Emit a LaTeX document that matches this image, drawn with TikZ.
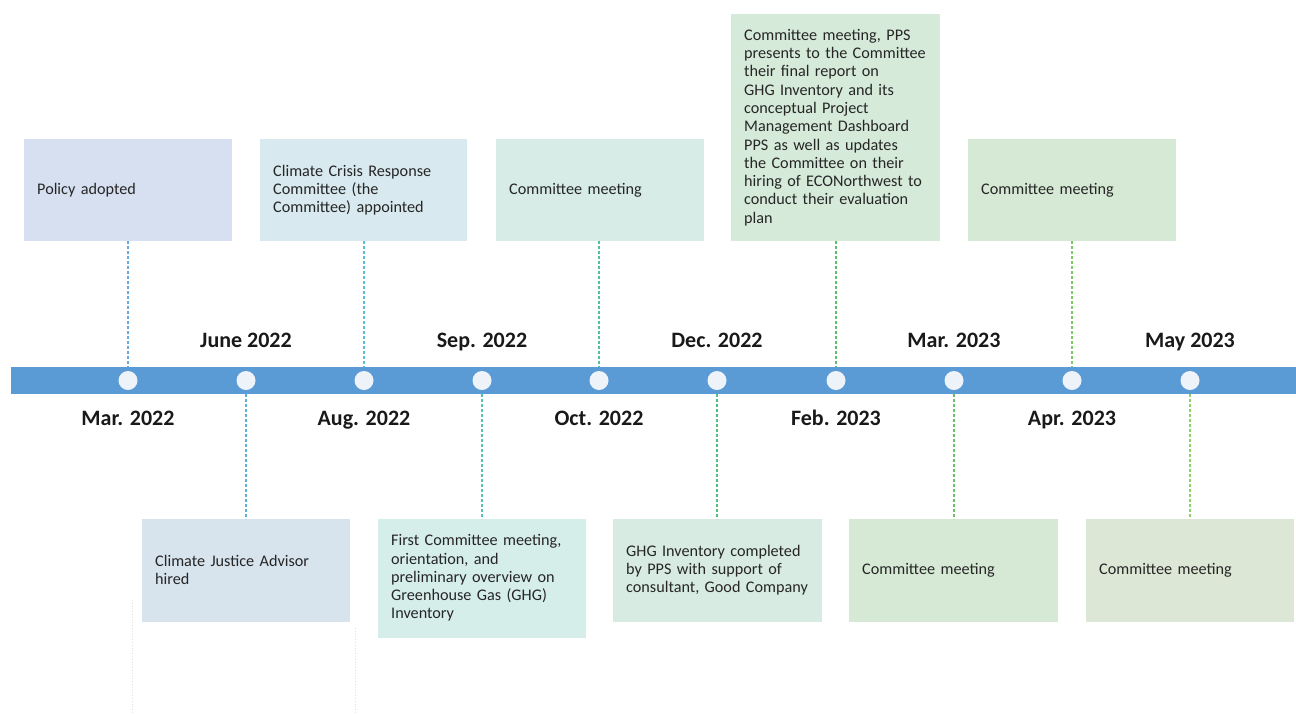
\documentclass[tikz,border=0pt]{standalone}
\usepackage{fontspec}
\setmainfont{Carlito}
\definecolor{barblue}{HTML}{5B9BD5}
\definecolor{dotfill}{HTML}{EEF2F9}
\definecolor{boxA}{HTML}{D6E0F0}
\definecolor{boxB}{HTML}{D8E9EF}
\definecolor{boxC}{HTML}{D7ECE6}
\definecolor{boxD}{HTML}{D6EAD9}
\definecolor{boxE}{HTML}{D6E9D4}
\definecolor{boxF}{HTML}{D7E3ED}
\definecolor{boxG}{HTML}{D6EEEA}
\definecolor{boxH}{HTML}{D7EBE2}
\definecolor{boxI}{HTML}{D6E9D5}
\definecolor{boxJ}{HTML}{DCE7D5}
\definecolor{lineA}{HTML}{6AA8E0}
\definecolor{lineB}{HTML}{5CB3DA}
\definecolor{lineC}{HTML}{55C2D6}
\definecolor{lineD}{HTML}{52C4B8}
\definecolor{lineE}{HTML}{4FC49C}
\definecolor{lineF}{HTML}{4FBF7E}
\definecolor{lineG}{HTML}{5BBF6C}
\definecolor{lineH}{HTML}{6AC466}
\definecolor{lineI}{HTML}{7ACB66}
\definecolor{lineJ}{HTML}{8CD06A}
\tikzset{
  evbox/.style={anchor=west, inner xsep=13pt, inner ysep=4pt, align=left,
    text width=#1, font=\fontsize{16.2}{18.3}\selectfont, text=black!85},
  datelbl/.style={anchor=base, font=\bfseries\fontsize{22}{24}\selectfont, text=black!90},
  tick/.style={circle, fill=dotfill, minimum size=19pt, inner sep=0pt},
  conn/.style={line width=1.1pt, dash pattern=on 3pt off 2pt, xshift=0.5pt},
  faint/.style={line width=0.8pt, dotted, draw=black!12}
}
\begin{document}
\begin{tikzpicture}[x=1pt,y=-1pt]
\useasboundingbox (0,0) rectangle (1296,713);
% bar
\fill[barblue] (11,367) rectangle (1296,394);
% ticks
\foreach \n/\x in {t1/128,t2/246,t3/364,t4/482,t5/599,t6/717,t7/836,t8/954,t9/1072,t10/1190}
  \node[tick] (\n) at (\x,380.5) {};
% date labels
\node[datelbl] (lmar22) at (128,425) {Mar. 2022};
\node[datelbl] (ljun22) at (246,347) {June 2022};
\node[datelbl] (laug22) at (364,425) {Aug. 2022};
\node[datelbl] (lsep22) at (482,347) {Sep. 2022};
\node[datelbl] (loct22) at (599,425) {Oct. 2022};
\node[datelbl] (ldec22) at (717,347) {Dec. 2022};
\node[datelbl] (lfeb23) at (836,425) {Feb. 2023};
\node[datelbl] (lmar23) at (954,347) {Mar. 2023};
\node[datelbl] (lapr23) at (1072,425) {Apr. 2023};
\node[datelbl] (lmay23) at (1190,347) {May 2023};
% top boxes
\fill[boxA] (24,139) rectangle (232,241);
\fill[boxB] (260,139) rectangle (467,241);
\fill[boxC] (496,139) rectangle (704,241);
\fill[boxD] (731,14) rectangle (940,241);
\fill[boxE] (968,139) rectangle (1176,241);
% bottom boxes
\fill[boxF] (142,519) rectangle (350,622);
\fill[boxG] (378,519) rectangle (586,638);
\fill[boxH] (613,519) rectangle (822,622);
\fill[boxI] (849,519) rectangle (1058,622);
\fill[boxJ] (1086,519) rectangle (1294,622);
% texts (vertically centred in boxes)
\node[evbox=195pt] (e1) at (24,190) {Policy adopted};
\node[evbox=195pt] (e3) at (260,190) {Climate Crisis Response\\Committee (the\\Committee) appointed};
\node[evbox=195pt] (e5) at (496,190) {Committee meeting};
\node[evbox=195pt] (e7) at (731,127.5) {Committee meeting, PPS\\presents to the Committee\\their final report on\\GHG Inventory and its\\conceptual Project\\Management Dashboard\\PPS as well as updates\\the Committee on their\\hiring of ECONorthwest to\\conduct their evaluation\\plan};
\node[evbox=195pt] (e9) at (968,190) {Committee meeting};
\node[evbox=195pt] (e2) at (142,570) {Climate Justice Advisor\\hired};
\node[evbox=195pt] (e4) at (378,578) {First Committee meeting,\\orientation, and\\preliminary overview on\\Greenhouse Gas (GHG)\\Inventory};
\node[evbox=195pt] (e6) at (613,570) {GHG Inventory completed\\by PPS with support of\\consultant, Good Company};
\node[evbox=195pt] (e8) at (849,570) {Committee meeting};
\node[evbox=195pt] (e10) at (1086,570) {Committee meeting};
% connector anchor points
\coordinate (a1) at (128,241); \coordinate (b1) at (128,367);
\coordinate (a3) at (364,241); \coordinate (b3) at (364,367);
\coordinate (a5) at (599,241); \coordinate (b5) at (599,367);
\coordinate (a7) at (836,241); \coordinate (b7) at (836,367);
\coordinate (a9) at (1072,241); \coordinate (b9) at (1072,367);
\coordinate (a2) at (246,519); \coordinate (b2) at (246,394);
\coordinate (a4) at (482,519); \coordinate (b4) at (482,394);
\coordinate (a6) at (717,519); \coordinate (b6) at (717,394);
\coordinate (a8) at (954,519); \coordinate (b8) at (954,394);
\coordinate (a10) at (1190,519); \coordinate (b10) at (1190,394);
\draw[conn, lineA] (a1) -- (b1);
\draw[conn, lineB] (b2) -- (a2);
\draw[conn, lineC] (a3) -- (b3);
\draw[conn, lineD] (b4) -- (a4);
\draw[conn, lineE] (a5) -- (b5);
\draw[conn, lineF] (b6) -- (a6);
\draw[conn, lineG] (a7) -- (b7);
\draw[conn, lineH] (b8) -- (a8);
\draw[conn, lineI] (a9) -- (b9);
\draw[conn, lineJ] (b10) -- (a10);
% faint dotted traces at bottom left
\coordinate (f1) at (132,600); \coordinate (f2) at (132,713);
\coordinate (f3) at (355,628); \coordinate (f4) at (355,713);
\draw[faint] (f1) -- (f2);
\draw[faint] (f3) -- (f4);
\end{tikzpicture}
\end{document}
